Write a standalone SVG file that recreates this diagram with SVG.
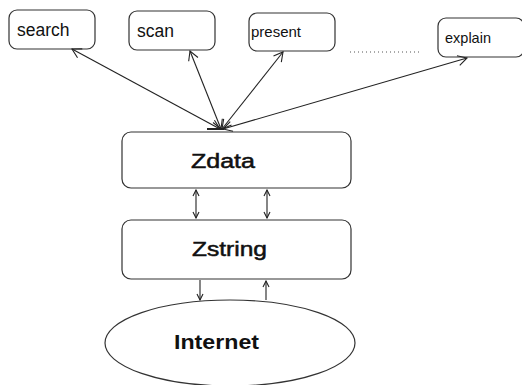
<svg xmlns="http://www.w3.org/2000/svg" width="522" height="385" viewBox="0 0 522 385">
<style>
.box{fill:#fff;stroke:#333;stroke-width:1.2}
.lbl{font-family:"Liberation Sans",Arial,sans-serif;fill:#111}
.mid{font-family:"Liberation Sans",Arial,sans-serif;fill:#111;stroke:#111;stroke-width:0.5}
.big{font-family:"Liberation Sans",Arial,sans-serif;font-weight:bold;fill:#111}
.con{fill:none;stroke:#222;stroke-width:1.1}
</style>
<defs>
<marker id="ah" markerWidth="12" markerHeight="12" refX="10" refY="6" orient="auto-start-reverse" markerUnits="userSpaceOnUse">
<path d="M1,1 L10,6 L1,11" fill="none" stroke="#222" stroke-width="1.1"/>
</marker>
<marker id="sh" markerWidth="8" markerHeight="8" refX="7" refY="4" orient="auto-start-reverse" markerUnits="userSpaceOnUse">
<path d="M1,1 L7,4 L1,7" fill="none" stroke="#222" stroke-width="1.1"/>
</marker>
</defs>
<rect width="522" height="385" fill="#fff"/>
<g id="search"><rect class="box" x="9" y="10" width="86" height="39" rx="8"/><text class="lbl" x="17" y="36" font-size="17.5">search</text></g>
<g id="scan"><rect class="box" x="129" y="11" width="86" height="39" rx="8"/><text class="lbl" x="137" y="37" font-size="17.5">scan</text></g>
<g id="present"><rect class="box" x="249" y="13" width="86" height="38" rx="8"/><text class="lbl" x="251" y="37" font-size="15">present</text></g>
<g id="explain"><rect class="box" x="438" y="18" width="86" height="39" rx="8"/><text class="lbl" x="445" y="43" font-size="14.5">explain</text></g>
<g id="dots"><line x1="350" y1="52" x2="422" y2="52" stroke="#555" stroke-width="1" stroke-dasharray="1 3"/></g>
<g id="Zdata"><rect class="box" x="122" y="132" width="229" height="56" rx="9"/><text class="mid" x="191" y="168" font-size="20" textLength="64" lengthAdjust="spacingAndGlyphs">Zdata</text></g>
<g id="Zstring"><rect class="box" x="122" y="220" width="229" height="59" rx="9"/><text class="mid" x="192" y="256" font-size="20" textLength="75" lengthAdjust="spacingAndGlyphs">Zstring</text></g>
<g id="Internet"><ellipse class="box" cx="230" cy="343" rx="125" ry="43"/><text class="big" x="174" y="349" font-size="20" textLength="85" lengthAdjust="spacingAndGlyphs">Internet</text></g>
<g id="connectors">
<line class="con" x1="220" y1="129" x2="72" y2="49" marker-start="url(#ah)" marker-end="url(#ah)"/>
<line class="con" x1="221" y1="129" x2="190" y2="51" marker-start="url(#ah)" marker-end="url(#ah)"/>
<line class="con" x1="222" y1="129" x2="283" y2="52" marker-start="url(#ah)" marker-end="url(#ah)"/>
<line class="con" x1="223" y1="129" x2="467" y2="58" marker-start="url(#ah)" marker-end="url(#ah)"/>
<line x1="207" y1="129" x2="224" y2="129" stroke="#222" stroke-width="2"/>
<line class="con" x1="196" y1="190" x2="196" y2="218" marker-start="url(#sh)" marker-end="url(#sh)"/>
<line class="con" x1="267" y1="190" x2="267" y2="218" marker-start="url(#sh)" marker-end="url(#sh)"/>
<line class="con" x1="200" y1="280" x2="200" y2="300" marker-end="url(#sh)"/>
<line class="con" x1="266" y1="300" x2="266" y2="281" marker-end="url(#sh)"/>
</g>
</svg>
